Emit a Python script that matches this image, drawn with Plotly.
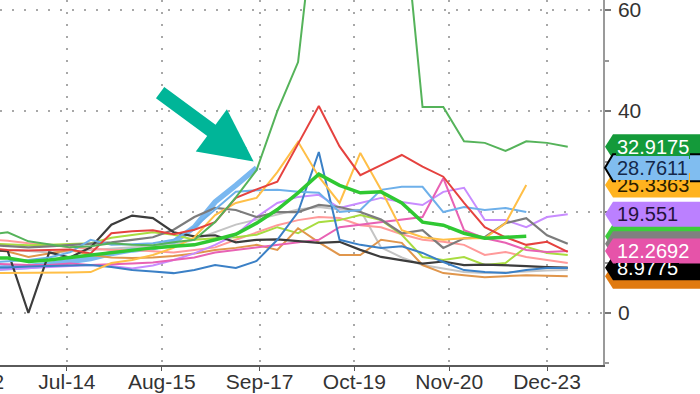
import plotly.graph_objects as go

dates = ["2023-06-17", "2023-06-24", "2023-07-01", "2023-07-08", "2023-07-15", "2023-07-22",
         "2023-07-29", "2023-08-05", "2023-08-12", "2023-08-19", "2023-08-26", "2023-09-02",
         "2023-09-09", "2023-09-16", "2023-09-23", "2023-09-30", "2023-10-07", "2023-10-14",
         "2023-10-21", "2023-10-28", "2023-11-04", "2023-11-11", "2023-11-18", "2023-11-25",
         "2023-12-02", "2023-12-09", "2023-12-16", "2023-12-23", "2023-12-30"]

light_gray = [12.5, 12.5, 12.3, 12, 12.2, 12.5, 12.8, 13, 13.2, 13.5, 14.5, 16, 17.5, 18.5, 19.5,
              20.5, 21, 20.5, 20.4, 13, 11, 9.5, 8.8, 8.1, 7.9, 8, 8.2, 8.4, 8.5]
salmon = [14.6, 14.3, 13.8, 13.5, 13, 12.8, 12.5, 12.5, 12.3, 12, 12.5, 13, 14.5, 16, 17.4,
          18.4, 19, 18.8, 17.4, 17, 15.6, 14.5, 14.1, 13.5, 11.5, 12.1, 11.1, 10.5, 9.9]
yellow_green = [13.8, 13.6, 13.4, 13.5, 13.6, 13.8, 14.9, 15.5, 16, 15.5, 14.5, 14.8, 15, 15.5, 17,
                15.8, 18, 18.4, 19.4, 18.4, 15.5, 11.1, 10.5, 11.1, 9.5, 9.9, 13.1, 11.9, 11.5]
dark_orange = [12.5, 12.2, 11.1, 11.8, 12.5, 11.5, 11, 10.9, 11, 11.3, 11.8, 12.5, 12.9, 13.5, 12.5,
               16.8, 14, 11.5, 11.5, 14.5, 13.9, 9.5, 7.9, 7.5, 7.1, 7.3, 7.5, 7.4, 7.3]
purple = [8.5, 8.7, 8.8, 9, 9.2, 9.5, 9.3, 8.8, 9.4, 10.5, 11.8, 13.5, 15.5, 19, 21.8,
          23, 23.4, 20.8, 21.8, 22.8, 22, 21.4, 24, 24.8, 18.4, 18.4, 17, 19, 19.551]
pink = [9.8, 9.6, 9.5, 9.5, 9.8, 9.5, 9.6, 9.8, 10, 10.5, 11, 12, 12.5, 13, 13.5,
        14, 14.5, 17, 17.5, 18, 18.4, 19, 26.7, 16.4, 14.8, 13.9, 12.5, 12.1, 12.2692]
gray = [13.5, 13.3, 13, 13.2, 13.5, 13.8, 14, 14.5, 15, 16.5, 19, 20.8, 20.4, 19, 20,
        20, 21.4, 21, 20, 18.5, 15.8, 16.4, 12.9, 14.8, 15, 17.8, 18.8, 15.4, 13.7035]
black = [12.5, 12.3, 0, 12, 11, 13, 17.5, 19.3, 18.8, 16, 15.2, 15.4, 14, 14.5, 14.6,
         14.2, 13.9, 14.1, 12.5, 11.1, 10.5, 9.8, 10.2, 9.5, 9.6, 9.5, 9.3, 9.1, 8.9775]
blue = [9, 9, 9.2, 9.3, 9.5, 9.5, 9.1, 8.5, 8.2, 7.9, 8.5, 9.5, 8.9, 10.3, 14.5,
        20, 31.9, 14.5, 13.5, 12.9, 13.2, 11.9, 10.1, 8.5, 8.1, 7.9, 8.5, 8.9, 8.9]
light_blue = [10, 10.3, 10.5, 11, 12, 14.5, 13.5, 13.6, 13.8, 14.5, 17, 20.5, 24, 24.3, 24.4,
              24, 23.8, 20, 20.4, 24.4, 25, 25, 20, 21, 20.4, 20.8, 20, None, None]
orange = [7.9, 7.9, 7.9, 8, 8, 8.1, 9.9, 10.5, 11.5, 12.9, 15, 19.4, 21.8, 22.8, 27.9,
          33.9, 27, 21.8, 31.7, 24.4, 16.4, 15, 14.5, 14.8, 14.8, 17.8, 25.3363, None, None]
red = [12.8, 12.5, 12.4, 12.5, 12.6, 11.8, 15.8, 16.2, 16.4, 15.6, 16.5, 18, 22.8, 24.5, 26,
       33.5, 41, 33, 27.3, 29.3, 31.3, 29, 27, 21.8, 17, 15, 13.5, 14.1, 12.1]
green = [15.5, 16, 14.2, 13.6, 13, 13.2, 13.8, 13.5, 13.4, 14, 14.5, 18, 22.9, 28.3, 40,
         49.7, 86, 95, 100, 95, 83, 40.8, 40.8, 34, 33.7, 32.1, 34, 33.7, 32.9175]
bright_green = [10.9, 10.9, 10.2, 10.5, 11, 11.5, 12, 12.5, 12.9, 13.2, 13.5, 14.5, 15.6, 17.8, 20.5,
                23.8, 27.5, 25.3, 23.8, 24, 21.8, 18, 17.4, 15.8, 14.8, 15, 15.1986, None, None]
current = [8.8, 8.9, 9.2, 9.6, 10.2, 10.8, 11.8, 12.5, 12.9, 14, 17, 22, 25.3, 28.7611, None,
           None, None, None, None, None, None, None, None, None, None, None, None, None, None]

series_names = ["current", "light_gray", "salmon", "yellow_green", "dark_orange", "purple", "pink",
                "gray", "black", "blue", "light_blue", "orange", "red", "green", "bright_green"]
series_values = [current, light_gray, salmon, yellow_green, dark_orange, purple, pink, gray, black,
                 blue, light_blue, orange, red, green, bright_green]
series_colors = ["#7ab8f0", "#c4c4c4", "#ff9a9a", "#a8dc40", "#e0964c", "#c88cff", "#e862b4",
                 "#7c7c7c", "#3c3c3c", "#3b80c6", "#6eb0ea", "#ffbf47", "#e5423f", "#55b35a", "#2fc832"]
series_widths = [5.5, 2, 2, 2, 2, 2, 2, 2.2, 2.2, 2, 2, 2, 2, 2, 3.5]

tick_vals = ["2023-07-14", "2023-08-15", "2023-09-17", "2023-10-19", "2023-11-20", "2023-12-23"]
tick_text = ["Jul-14", "Aug-15", "Sep-17", "Oct-19", "Nov-20", "Dec-23"]
hidden_tick_text = "Jun-12"

# last-value tags (drawn bottom to top); tags whose label is fully covered carry no text
tag_values = [7.3, 8.9775, 15.1986, 13.7035, 12.2692, 25.3363, 19.551, 32.9175, 28.7611]
tag_texts = ["", "8.9775", "", "", "12.2692", "25.3363", "19.551", "32.9175", "28.7611"]
tag_bg = ["#e07a10", "#000000", "#3ccc3c", "#808080", "#e653a9", "#ffb31f", "#bb80ff", "#149a3a", "#80bdf0"]
tag_fg = ["#ffffff", "#ffffff", "#ffffff", "#ffffff", "#ffffff", "#2a2000", "#24123c", "#ffffff", "#14284a"]
tag_outline = [None, None, None, None, None, None, None, None, "#000000"]

Y_MIN, Y_MAX = -10.3, 62
X_RANGE = ["2023-06-21 10:00", "2024-01-10 21:30"]
W, H = 700, 394
ML, MR, MT, MB = 0, 97, 0, 29
PW, PH = W - ML - MR, H - MT - MB

fig = go.Figure()
for name, vals, col, wd in zip(series_names, series_values, series_colors, series_widths):
    fig.add_trace(go.Scatter(x=dates, y=vals, mode="lines", name=name,
                             line=dict(color=col, width=wd), showlegend=False))

FONT = "Liberation Sans, Arial, sans-serif"

# right-side value tags: pointed background shapes + text boxes
tip_x = 605 / PW
body_x = 613 / PW
end_x = 720 / PW
for v, t, bg, fg, ol in zip(tag_values, tag_texts, tag_bg, tag_fg, tag_outline):
    yp = (v - Y_MIN) / (Y_MAX - Y_MIN)
    hh = (13.5 if ol else 12.5) / PH
    fig.add_shape(type="path", xref="paper", yref="paper",
                  path=(f"M {tip_x},{yp} L {body_x},{yp + hh} L {end_x},{yp + hh} "
                        f"L {end_x},{yp - hh} L {body_x},{yp - hh} Z"),
                  fillcolor=bg, line=dict(color=ol if ol else bg, width=2 if ol else 0),
                  layer="above")
for v, t, bg, fg, ol in zip(tag_values, tag_texts, tag_bg, tag_fg, tag_outline):
    if not t:
        continue
    fig.add_annotation(xref="paper", yref="y", x=616 / PW, y=v, xanchor="left", yanchor="middle",
                       text=t, showarrow=False, borderpad=1, bgcolor=bg, borderwidth=0,
                       font=dict(family=FONT, size=20, color=fg))

# partially visible first tick label
fig.add_annotation(xref="paper", yref="paper", x=-27.8 / PW, y=0, xanchor="center", yanchor="top",
                   yshift=-3, text=hidden_tick_text, showarrow=False,
                   font=dict(family=FONT, size=21, color="#333333"))

# teal arrow
fig.add_annotation(xref="x", yref="y", x="2023-09-15", y=30, ax=-95, ay=-70,
                   text="", showarrow=True, arrowhead=2, arrowsize=0.75, arrowwidth=14,
                   arrowcolor="#00b598")

fig.update_layout(
    width=W, height=H, margin=dict(l=ML, r=MR, t=MT, b=MB, autoexpand=False),
    paper_bgcolor="white", plot_bgcolor="white",
    font=dict(family=FONT, color="#333333"),
    xaxis=dict(type="date", range=X_RANGE, tickvals=tick_vals, ticktext=tick_text,
               showgrid=True, gridcolor="#a8a8a8", griddash="2px,10px", gridwidth=1.5,
               ticks="outside", ticklen=4, tickcolor="#555555", tickwidth=1,
               showline=True, linecolor="#5a5a5a", linewidth=2, automargin=False,
               ticklabelstandoff=-7, ticklabeloverflow="allow",
               tickfont=dict(family=FONT, size=21, color="#333333"), zeroline=False),
    yaxis=dict(side="right", range=[Y_MIN, Y_MAX], tickvals=[0, 20, 40, 60],
               showgrid=True, gridcolor="#a8a8a8", griddash="2px,10px", gridwidth=1.5,
               ticks="outside", ticklen=6, tickcolor="#777777", tickwidth=1.5,
               minor=dict(ticks="outside", dtick=10, tick0=0, ticklen=4, tickcolor="#999999", showgrid=False),
               showline=True, linecolor="#9a9a9a", linewidth=1.5, ticklabelstandoff=3,
               automargin=False, ticklabeloverflow="allow",
               tickfont=dict(family=FONT, size=21, color="#333333"), zeroline=False),
)

fig.write_html("out.html", config={"displayModeBar": False},
               post_script="document.body.style.margin='0px';document.body.style.overflow='hidden';")
